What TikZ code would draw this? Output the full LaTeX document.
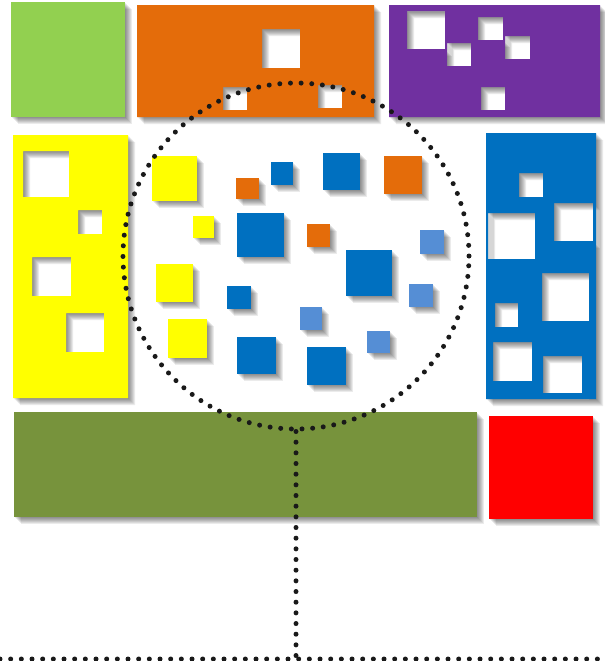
\documentclass[tikz,border=0pt]{standalone}
\usetikzlibrary{calc}
\definecolor{clime}{HTML}{92D050}
\definecolor{corange}{HTML}{E46C0A}
\definecolor{cpurple}{HTML}{7030A0}
\definecolor{cyellow}{HTML}{FFFF00}
\definecolor{cblue}{HTML}{0070C0}
\definecolor{csky}{HTML}{558ED5}
\definecolor{colive}{HTML}{77933C}
\definecolor{cred}{HTML}{FF0000}
\tikzset{
  sh/.style={preaction={fill=black, fill opacity=0.08, even odd rule, transform canvas={shift={(#1,#1)}}}},
  dropshadow/.style={sh=1, sh=2, sh=3, sh=4, sh=5, sh=6, sh=7},
  slab/.style={fill=#1, even odd rule, dropshadow},
  tile/.style={fill=#1, dropshadow},
  dots/.style={draw=black!90, line width=0.15cm, line cap=round, dash pattern=on 0pt off 0.32cm},
}

\begin{document}
\begin{tikzpicture}[x=0.03cm, y=-0.03cm]
  \useasboundingbox (0,0) rectangle (604,661);
  % top row
  \fill[tile=clime] (11,2) rectangle (125,117);
  \fill[slab=corange] (137,5) rectangle (374,117)
    (262,29) rectangle (300,68) (223,87) rectangle (247,110) (318,85) rectangle (342,108);
  \fill[slab=cpurple] (389,5) rectangle (600,117)
    (407,11) rectangle (445,49) (447,43) rectangle (471,66) (478,17) rectangle (503,40)
    (505,36) rectangle (530,59) (481,87) rectangle (505,110);
  % side columns
  \fill[slab=cyellow] (13,135) rectangle (128,398)
    (23,151) rectangle (69,197) (78,210) rectangle (102,234)
    (32,257) rectangle (71,296) (66,313) rectangle (104,352);
  \fill[slab=cblue] (486,133) rectangle (596,399)
    (519,173) rectangle (543,197) (488,213) rectangle (535,259) (554,203) rectangle (593,241)
    (542,273) rectangle (589,321) (495,303) rectangle (518,327)
    (493,342) rectangle (532,381) (543,356) rectangle (582,393);
  % loose tiles
  \foreach \c/\a/\b/\p/\q in {cyellow/152/156/197/201, cyellow/193/216/214/238,
      cyellow/156/264/193/302, cyellow/168/319/207/358,
      corange/236/178/259/199, corange/384/156/422/194, corange/307/224/330/247,
      cblue/271/162/293/185, cblue/237/213/284/257, cblue/227/286/251/309,
      cblue/237/337/276/374, cblue/323/153/360/190, cblue/346/250/392/296,
      cblue/307/347/346/385,
      csky/420/230/444/254, csky/409/284/433/307, csky/300/307/322/330, csky/367/331/390/353}
    {\fill[tile=\c] (\a,\b) rectangle (\p,\q);}
  % bottom row
  \fill[tile=colive] (14,412) rectangle (477,517);
  \fill[tile=cred] (489,416) rectangle (593,519);
  % dotted lens and its stem
  \node[circle, minimum size=10.38cm, inner sep=0pt, dots] (lens) at (296,256) {};
  \coordinate (floorL) at (0,659);
  \coordinate (floorR) at (604,659);
  \draw[dots] (lens.south) -- (lens.south |- floorL);
  \draw[dots] (floorL) -- (floorR);
\end{tikzpicture}
\end{document}
